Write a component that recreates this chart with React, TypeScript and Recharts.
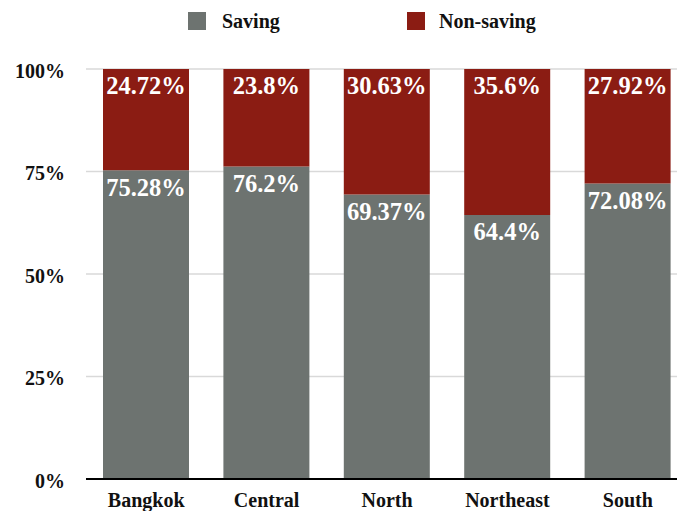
import React from 'react';
import { BarChart, Bar, XAxis, YAxis, CartesianGrid, Legend, LabelList } from 'recharts';

const regions = ['Bangkok', 'Central', 'North', 'Northeast', 'South'];
const saving = [75.28, 76.2, 69.37, 64.4, 72.08];
const nonSaving = [24.72, 23.8, 30.63, 35.6, 27.92];
const percentTicks = [0, 25, 50, 75, 100];

const data = regions.map((region, i) => ({
  region,
  saving: saving[i],
  nonSaving: nonSaving[i],
}));

const SERIF = '"Liberation Serif", "Times New Roman", serif';
const GREY = '#6d7370';
const RED = '#8b1c13';

const asPercent = (value: unknown) => `${value}%`;

// legend entries sit at fixed columns above the plot
const renderLegend = (props: any) => (
  <div style={{ position: 'relative', height: 30, fontFamily: SERIF, fontWeight: 700, fontSize: 20 }}>
    {props.payload.map((entry: any, i: number) => (
      <div key={entry.value} style={{ position: 'absolute', left: i === 0 ? 188 : 407, top: 10, display: 'flex', alignItems: 'center', color: '#111' }}>
        <span style={{ width: 18, height: 18, background: entry.color, marginRight: i === 0 ? 16 : 14 }} />
        <span style={{ lineHeight: '22px', whiteSpace: 'nowrap' }}>{entry.value}</span>
      </div>
    ))}
  </div>
);

export default function App() {
  return (
    <div style={{ position: 'absolute', left: 0, top: 0, width: 677, height: 511, overflow: 'hidden', background: '#fff' }}>
      <BarChart
        data={data}
        width={688}
        height={511}
        barSize={86}
        margin={{ top: 39, right: 0, left: 0, bottom: 0 }}
      >
        <CartesianGrid vertical={false} stroke="#d9d9d9" strokeWidth={1.5} />
        <XAxis
          dataKey="region"
          height={32}
          axisLine={{ stroke: '#000', strokeWidth: 2 }}
          tickLine={false}
          tickMargin={8}
          interval={0}
          tick={{ fill: '#111', fontFamily: SERIF, fontWeight: 700, fontSize: 20 }}
        />
        <YAxis
          width={86}
          domain={[0, 100]}
          ticks={percentTicks}
          tickFormatter={asPercent}
          axisLine={false}
          tickLine={false}
          tickMargin={15}
          tick={{ fill: '#111', fontFamily: SERIF, fontWeight: 700, fontSize: 20, dy: 1.5 }}
        />
        <Legend verticalAlign="top" height={0} itemSorter={null} content={renderLegend} wrapperStyle={{ left: 0, top: 0, width: 677 }} />
        <Bar dataKey="saving" name="Saving" stackId="share" fill={GREY} isAnimationActive={false}>
          <LabelList dataKey="saving" position="insideTop" offset={8} formatter={asPercent} fill="#fff" fontFamily={SERIF} fontWeight={700} fontSize={24.5} />
        </Bar>
        <Bar dataKey="nonSaving" name="Non-saving" stackId="share" fill={RED} isAnimationActive={false}>
          <LabelList dataKey="nonSaving" position="insideTop" offset={8} formatter={asPercent} fill="#fff" fontFamily={SERIF} fontWeight={700} fontSize={24.5} />
        </Bar>
      </BarChart>
    </div>
  );
}
